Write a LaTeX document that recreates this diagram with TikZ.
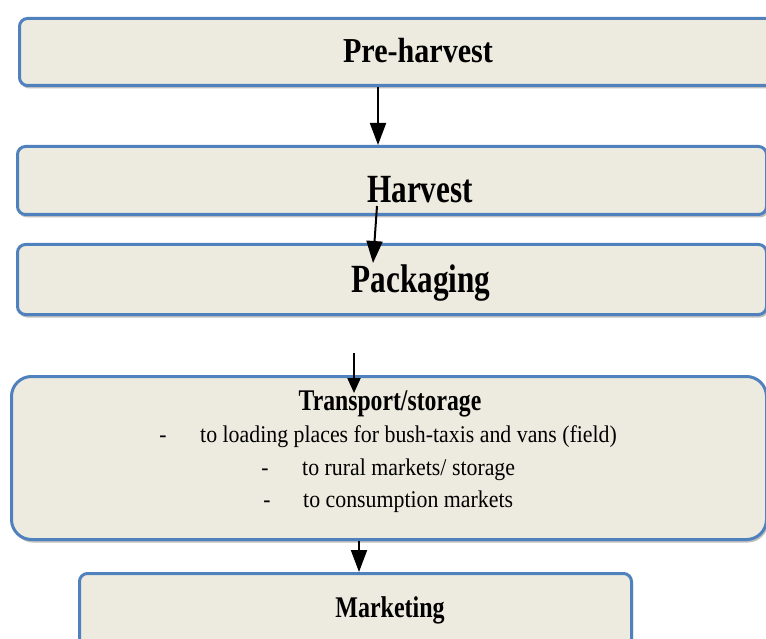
\documentclass[tikz,border=0pt]{standalone}
\usepackage{fontspec}
\usepackage{graphicx}
\setmainfont{Liberation Serif}
\usetikzlibrary{arrows.meta,shadows,calc}
\definecolor{boxfill}{RGB}{237,235,224}
\definecolor{boxline}{RGB}{79,129,189}
\newcommand{\cnd}[2]{\scalebox{#1}[1]{#2}}
\begin{document}
\begin{tikzpicture}[x=1pt,y=-1pt,
  stagebox/.style={draw=boxline, line width=3pt, fill=boxfill, rounded corners=8pt,
    anchor=north west, inner sep=0pt,
    drop shadow={shadow xshift=1.5pt, shadow yshift=-3pt, fill=black!45, opacity=0.55}},
  txt/.style={inner sep=0pt, anchor=base, text=black},
  txtw/.style={inner sep=0pt, anchor=base west, text=black},
  arr/.style={draw=black, line width=2pt, -{Triangle[width=16pt,length=22pt]}},
  arrs/.style={draw=black, line width=2pt, -{Triangle[width=13pt,length=15pt]}}
]
\clip (0,0) rectangle (766,639);
\fill[white] (0,0) rectangle (766,639);

% boxes
\node[stagebox, minimum width=760pt, minimum height=67pt] (b1) at (18,17) {};
\node[stagebox, minimum width=749pt, minimum height=68pt] (b2) at (16,145) {};
\node[stagebox, minimum width=749pt, minimum height=70pt] (b3) at (16,243) {};
\node[stagebox, rounded corners=20pt, minimum width=755pt, minimum height=163pt] (b4) at (10,375) {};
\node[stagebox, minimum width=552pt, minimum height=80pt] (b5) at (78,572) {};

% texts
\node[txt] (t1) at (418,63) {\fontsize{35pt}{40pt}\selectfont\bfseries\cnd{0.86}{Pre-harvest}};
\node[txt] (t2) at (420,203) {\fontsize{40pt}{44pt}\selectfont\bfseries\cnd{0.78}{Harvest}};
\node[txt] (t3) at (421,293) {\fontsize{40pt}{44pt}\selectfont\bfseries\cnd{0.78}{Packaging}};
\node[txt] (t4) at (390,410) {\fontsize{30pt}{34pt}\selectfont\bfseries\cnd{0.79}{Transport/storage}};
\node[txt] (d1) at (163,442) {\fontsize{24pt}{26pt}\selectfont\cnd{0.9}{-}};
\node[txtw] (l1) at (200,442) {\fontsize{24pt}{26pt}\selectfont\cnd{0.91}{to loading places for bush-taxis and vans (field)}};
\node[txt] (d2) at (265,475) {\fontsize{24pt}{26pt}\selectfont\cnd{0.9}{-}};
\node[txtw] (l2) at (302,475) {\fontsize{24pt}{26pt}\selectfont\cnd{0.91}{to rural markets/ storage}};
\node[txt] (d3) at (267,507) {\fontsize{24pt}{26pt}\selectfont\cnd{0.9}{-}};
\node[txtw] (l3) at (303,507) {\fontsize{24pt}{26pt}\selectfont\cnd{0.91}{to consumption markets}};
\node[txt] (t5) at (390,617) {\fontsize{30pt}{34pt}\selectfont\bfseries\cnd{0.8}{Marketing}};

% arrows
\draw[arr] (b1.south -| 378,0) -- (b2.north -| 378,0);
\draw[arr] ($(b2.south -| 377,0)+(0,-10)$) -- ($(b3.north -| 373,0)+(0,20)$);
\draw[arrs] ($(b4.north -| 354,0)+(0,-22)$) -- ($(b4.north -| 354,0)+(0,18)$);
\draw[arr] (b4.south -| 359,0) -- (b5.north -| 359,0);
\end{tikzpicture}
\end{document}
